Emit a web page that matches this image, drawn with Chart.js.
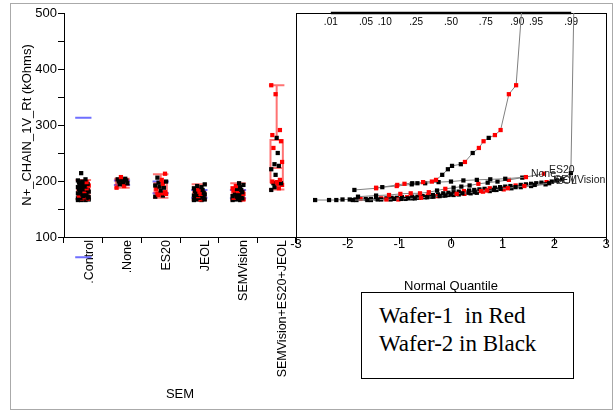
<!DOCTYPE html>
<html>
<head>
<meta charset="utf-8">
<script src="https://cdn.jsdelivr.net/npm/chart.js@4.4.1/dist/chart.umd.min.js"></script>
<style>
  body { margin: 0; background: #fff; }
  #wrap { position: relative; width: 615px; height: 411px; overflow: hidden; }
  #frame { position: absolute; left: 10px; top: 3px; width: 601px; height: 405px; border: 1px solid #aaa; }
  #left { position: absolute; left: 0; top: 0; }
  #right { position: absolute; left: 280px; top: 0; }
  #legendBox {
    position: absolute; left: 361px; top: 292px; width: 213px; height: 87px;
    box-sizing: border-box; border: 1.5px solid #000; background: #fff;
    padding: 9px 0 0 17px; white-space: pre;
    font-family: 'Liberation Serif', 'Times New Roman', serif; font-size: 23px; line-height: 28px;
  }
</style>
</head>
<body>
<div id="wrap">
  <div id="frame"></div>
  <canvas id="left" width="310" height="411"></canvas>
  <canvas id="right" width="335" height="300"></canvas>
  <div id="legendBox">Wafer-1  in Red
Wafer-2 in Black</div>
</div>
<script>
const groups = ['.Control', '.None', 'ES20', 'JEOL', 'SEMVision', 'SEMVision+ES20+JEOL'];

// normal quantile, value, wafer (1 = red, 2 = black)
const controlZ = [-2.63, -2.36, -2.22, -2.10, -1.96, -1.85, -1.75, -1.65, -1.55, -1.45, -1.35, -1.25, -1.15, -1.05, -0.95, -0.85, -0.75, -0.65, -0.55, -0.45, -0.35, -0.25, -0.15, -0.05,
  0.05, 0.15, 0.25, 0.35, 0.45, 0.55, 0.65, 0.75, 0.85, 0.95, 1.05, 1.15, 1.25, 1.35, 1.45, 1.55, 1.65, 1.75, 1.85, 1.95, 2.05, 2.15, 2.32, 2.63];
const controlVal = [166, 166, 166, 167, 167, 167, 168, 168, 168, 169, 169, 169, 170, 170, 171, 171, 172, 172, 173, 174, 175, 176, 178, 179,
  180, 181, 182, 183, 184, 185, 186, 187, 188, 189, 190, 191, 192, 193, 194, 195, 196, 197, 198, 199, 201, 203, 214, 1800];
const controlWafer = [2, 2, 2, 2, 2, 2, 1, 2, 2, 2, 1, 2, 2, 2, 2, 1, 2, 2, 2, 1, 2, 2, 2, 2,
  2, 2, 1, 2, 2, 2, 2, 1, 2, 2, 2, 2, 1, 2, 2, 2, 2, 2, 1, 2, 2, 2, 2, 2];

const noneZ = [-1.45, -1.05, -0.76, -0.5, -0.24, 0, 0.24, 0.5, 0.76, 1.05, 1.45];
const noneVal = [188, 191, 194, 196, 198, 199, 201, 202, 203, 204, 207];
const noneWafer = [1, 1, 2, 2, 2, 2, 2, 2, 2, 2, 1];

const es20Z = [-1.8, -1.45, -1.2, -0.98, -0.78, -0.6, -0.43, -0.27, -0.11, 0.05, 0.2, 0.36, 0.53, 0.71, 0.9, 1.12, 1.38, 1.8];
const es20Val = [172, 174, 175, 177, 178, 178, 180, 183, 186, 188, 190, 192, 195, 197, 199, 202, 206, 213];
const es20Wafer = [2, 2, 1, 1, 1, 1, 1, 2, 1, 2, 2, 2, 1, 2, 2, 1, 2, 1];

const jeolZ = [-1.83, -1.55, -1.35, -1.17, -1.02, -0.88, -0.75, -0.62, -0.5, -0.38, -0.26, -0.15, -0.05, 0.05, 0.15, 0.26, 0.38, 0.5, 0.62, 0.75, 0.88, 1.02, 1.17, 1.35, 1.55, 1.83];
const jeolVal = [166, 166, 167, 167, 167, 168, 169, 170, 171, 172, 173, 174, 175, 175, 176, 177, 178, 179, 181, 182, 184, 185, 187, 189, 191, 194];
const jeolWafer = [2, 2, 2, 2, 1, 2, 2, 2, 2, 2, 1, 2, 2, 2, 2, 1, 2, 2, 1, 2, 2, 1, 2, 2, 2, 2];

const semZ = [-1.9, -1.62, -1.42, -1.25, -1.1, -0.96, -0.83, -0.7, -0.58, -0.46, -0.34, -0.22, -0.11, 0, 0.11, 0.22, 0.34, 0.46, 0.58, 0.7, 0.83, 0.96, 1.1, 1.25, 1.42, 1.62, 1.9];
const semVal = [166, 166, 167, 167, 168, 168, 169, 169, 170, 171, 172, 173, 174, 176, 177, 178, 179, 180, 182, 183, 184, 186, 187, 189, 191, 193, 196];
const semWafer = [2, 2, 2, 1, 2, 2, 2, 2, 1, 2, 2, 2, 2, 2, 1, 2, 2, 2, 1, 1, 2, 2, 1, 2, 1, 2, 2];

const comboZ = [-1.87, -1.45, -1.33, -1.04, -0.9, -0.75, -0.65, -0.54, -0.37, -0.29, -0.17, -0.06, 0.02, 0.19, 0.27, 0.42, 0.54, 0.63, 0.73, 0.85, 0.96, 1.12, 1.26, 1.55, 1.87];
const comboVal = [184, 187, 189, 193, 195, 196, 196, 198, 199, 202, 211, 221, 227, 230, 234, 250, 259, 271, 277, 282, 291, 355, 371, 730, 950];
const comboWafer = [2, 1, 2, 1, 1, 2, 2, 1, 1, 1, 2, 2, 2, 2, 1, 2, 1, 1, 2, 1, 1, 1, 1, 1, 1];

// outlier box plot (red) per group
const boxLo  = [168, 188, 170, 166, 166, 185];
const boxQ1  = [172, 193, 178, 169, 169, 196];
const boxMed = [180, 197, 189, 175, 176, 223];
const boxQ3  = [187, 201, 196, 181, 183, 273];
const boxHi  = [202, 204, 212, 194, 196, 371];

// blue std dev lines
const sdHi = [313, 201, 199, 184, 184, null];
const sdLo = [64, 193, 178, 170, 169, null];

const probLabels = ['.01', '.05', '.10', '.25', '.50', '.75', '.90', '.95', '.99'];
const probZ = [-2.326, -1.645, -1.282, -0.674, 0, 0.674, 1.282, 1.645, 2.326];

Chart.defaults.font.family = "'Liberation Sans', Arial, sans-serif";
Chart.defaults.font.size = 13;
Chart.defaults.color = '#000';
Chart.defaults.animation = false;

const RED = '#ff0000';
const BLACK = '#000000';
const waferColor = w => (w === 1 ? RED : BLACK);

const series = [
  { name: groups[0], z: controlZ, val: controlVal, wafer: controlWafer },
  { name: groups[1], z: noneZ, val: noneVal, wafer: noneWafer },
  { name: groups[2], z: es20Z, val: es20Val, wafer: es20Wafer },
  { name: groups[3], z: jeolZ, val: jeolVal, wafer: jeolWafer },
  { name: groups[4], z: semZ, val: semVal, wafer: semWafer },
  { name: groups[5], z: comboZ, val: comboVal, wafer: comboWafer }
];

// ---------- left: one-way plot ----------
const jitter = i => (((i * 7) % 11) - 5) * 0.028;

const leftSets = [];
series.forEach((s, g) => {
  leftSets.push({
    data: s.val.map((v, i) => ({ x: g + jitter(i), y: v })),
    pointStyle: 'rect',
    pointRadius: 3,
    pointBorderWidth: 0,
    pointBackgroundColor: s.wafer.map(waferColor)
  });
});

function boxPath(g) {
  const gap = () => ({ x: g, y: null });
  const bw = 0.16, cw = 0.2;
  return [
    { x: g - cw, y: boxLo[g] }, { x: g + cw, y: boxLo[g] }, gap(),
    { x: g, y: boxLo[g] }, { x: g, y: boxQ1[g] }, gap(),
    { x: g - bw, y: boxQ1[g] }, { x: g + bw, y: boxQ1[g] }, { x: g + bw, y: boxQ3[g] },
    { x: g - bw, y: boxQ3[g] }, { x: g - bw, y: boxQ1[g] }, gap(),
    { x: g - bw, y: boxMed[g] }, { x: g + bw, y: boxMed[g] }, gap(),
    { x: g, y: boxQ3[g] }, { x: g, y: boxHi[g] }, gap(),
    { x: g - cw, y: boxHi[g] }, { x: g + cw, y: boxHi[g] }
  ];
}

groups.forEach((name, g) => {
  leftSets.push({
    data: boxPath(g),
    showLine: true,
    pointRadius: 0,
    borderColor: 'rgba(255,0,0,0.55)',
    borderWidth: 2
  });
});

const sdData = [];
groups.forEach((name, g) => {
  [sdHi[g], sdLo[g]].forEach(v => {
    if (v === null) return;
    sdData.push({ x: g - 0.21, y: v }, { x: g + 0.21, y: v }, { x: g, y: null });
  });
});
leftSets.push({
  data: sdData,
  showLine: true,
  pointRadius: 0,
  borderColor: '#6f6fff',
  borderWidth: 2,
  clip: false
});

new Chart(document.getElementById('left'), {
  type: 'scatter',
  data: { datasets: leftSets },
  options: {
    responsive: false,
    layout: { padding: { left: 0, right: 14, top: 13, bottom: 9 } },
    plugins: { legend: { display: false }, tooltip: { enabled: false } },
    scales: {
      x: {
        type: 'linear', min: -0.5, max: 5.5,
        afterBuildTicks: s => { s.ticks = groups.map((g, i) => ({ value: i })); },
        afterFit: s => { s.height = 165; },
        grid: { drawOnChartArea: false, offset: true, tickLength: 6, color: '#000' },
        border: { color: '#000' },
        ticks: {
          autoSkip: false, minRotation: 90, maxRotation: 90, padding: -3, labelOffset: 6,
          font: { size: 12.5 },
          callback: (v, i) => groups[i]
        },
        title: { display: true, text: 'SEM', padding: { top: 0, bottom: 0 } }
      },
      y: {
        min: 100, max: 500,
        afterFit: s => { s.width = 64; },
        ticks: { stepSize: 50, padding: 1, callback: v => (v % 100 === 0 ? v : '') },
        grid: { drawOnChartArea: false, tickLength: 6, color: '#000' },
        border: { color: '#000' },
        title: { display: true, text: 'N+_CHAIN_1V_Rt (kOhms)', padding: { top: 20, bottom: 0 } }
      }
    }
  }
});

// ---------- right: normal quantile plot ----------
const endLabels = {
  id: 'endLabels',
  afterDatasetsDraw(chart) {
    const ctx = chart.ctx;
    ctx.save();
    ctx.font = "10.5px 'Liberation Sans', Arial, sans-serif";
    ctx.fillStyle = '#222';
    ctx.textBaseline = 'bottom';
    chart.data.datasets.forEach((ds, i) => {
      if (!ds.endLabel) return;
      const pts = chart.getDatasetMeta(i).data;
      const p = pts[pts.length - 1];
      ctx.fillText(ds.endLabel, p.x + 5, p.y + 2);
    });
    ctx.restore();
  }
};

function quantileSet(s, label) {
  return {
    data: s.z.map((z, i) => ({ x: z, y: s.val[i] })),
    showLine: true,
    borderColor: '#808080',
    borderWidth: 1,
    pointStyle: 'rect',
    pointRadius: 3,
    pointBorderWidth: 0,
    pointBackgroundColor: s.wafer.map(waferColor),
    endLabel: label
  };
}

const rightSets = [
  quantileSet(series[5], null),
  quantileSet(series[1], 'None'),
  quantileSet(series[2], 'ES20'),
  quantileSet(series[4], 'SEMVision'),
  quantileSet(series[3], 'JEOL'),
  quantileSet(series[0], null),
  {
    data: [{ x: probZ[0], y: 500 }, { x: probZ[probZ.length - 1], y: 500 }],
    showLine: true,
    pointRadius: 0,
    borderColor: '#000',
    borderWidth: 2.5,
    clip: false
  }
];

new Chart(document.getElementById('right'), {
  type: 'scatter',
  data: { datasets: rightSets },
  plugins: [endLabels],
  options: {
    responsive: false,
    layout: { padding: { left: 16, right: 9, top: 13, bottom: 3 } },
    plugins: { legend: { display: false }, tooltip: { enabled: false } },
    scales: {
      x: {
        type: 'linear', min: -3, max: 3,
        ticks: { stepSize: 1, padding: -7 },
        grid: { drawOnChartArea: false, tickLength: 7, color: '#000' },
        border: { color: '#000' },
        afterFit: s => { s.height = 60; },
        title: { display: true, text: 'Normal Quantile', padding: { top: 0, bottom: 3 } }
      },
      xt: {
        type: 'linear', position: 'top', min: -3, max: 3,
        afterBuildTicks: s => { s.ticks = probZ.map(z => ({ value: z })); },
        ticks: { autoSkip: false, mirror: true, padding: 3, font: { size: 10 }, callback: (v, i) => probLabels[i] },
        grid: { display: false, drawTicks: false },
        border: { color: '#000' },
        afterFit: s => { s.height = 0; }
      },
      y: {
        min: 100, max: 500,
        ticks: { display: false },
        grid: { display: false, drawTicks: false },
        border: { color: '#000' },
        afterFit: s => { s.width = 0; }
      },
      y2: {
        position: 'right', min: 100, max: 500,
        ticks: { display: false },
        grid: { display: false, drawTicks: false },
        border: { color: '#000' },
        afterFit: s => { s.width = 0; }
      }
    }
  }
});
</script>
</body>
</html>
